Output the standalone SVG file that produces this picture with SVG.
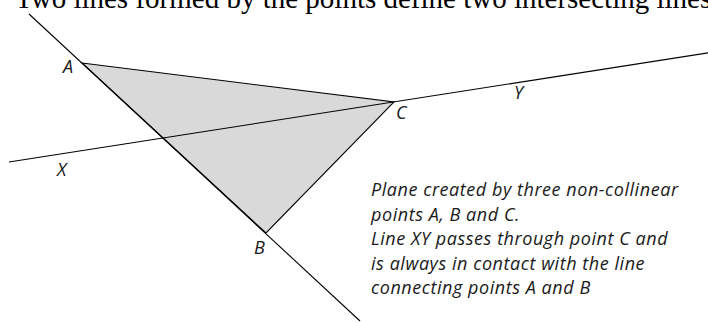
<svg xmlns="http://www.w3.org/2000/svg" width="708" height="323" viewBox="0 0 708 323">
  <style>
    .title { font-family: "Liberation Serif", "Times New Roman", serif; font-size: 29px; fill: #000; }
    .lbl { font-family: "Open Sans", "DejaVu Sans", sans-serif; font-style: italic; font-size: 18px; fill: #1a1a1a; letter-spacing: 0.55px; }
    .ln { stroke: #000; stroke-width: 1.1; fill: none; }
    .plane { fill: #d9d9d9; stroke: #000; stroke-width: 1.1; stroke-linejoin: miter; }
  </style>
  <rect width="708" height="323" fill="#fff"/>
  <text class="title" x="15" y="8">Two lines formed by the points define two intersecting lines.</text>
  <g id="plane-ABC">
    <polygon class="plane" points="82,63 394,102 266,233"/>
  </g>
  <g id="connectors">
    <line id="line-AB" class="ln" x1="29" y1="14" x2="360" y2="321"/>
    <line id="line-XY" class="ln" x1="9" y1="162" x2="720" y2="51"/>
  </g>
  <g id="point-A"><text class="lbl" x="63" y="73">A</text></g>
  <g id="point-B"><text class="lbl" x="254" y="254">B</text></g>
  <g id="point-C"><text class="lbl" x="396" y="119">C</text></g>
  <g id="label-X"><text class="lbl" x="57" y="176">X</text></g>
  <g id="label-Y"><text class="lbl" x="514" y="99">Y</text></g>
  <g id="note">
    <text class="lbl" x="371" y="196">Plane created by three non-collinear</text>
    <text class="lbl" x="371" y="220.5">points A, B and C.</text>
    <text class="lbl" x="371" y="245">Line XY passes through point C and</text>
    <text class="lbl" x="371" y="269.5">is always in contact with the line</text>
    <text class="lbl" x="371" y="294">connecting points A and B</text>
  </g>
</svg>
